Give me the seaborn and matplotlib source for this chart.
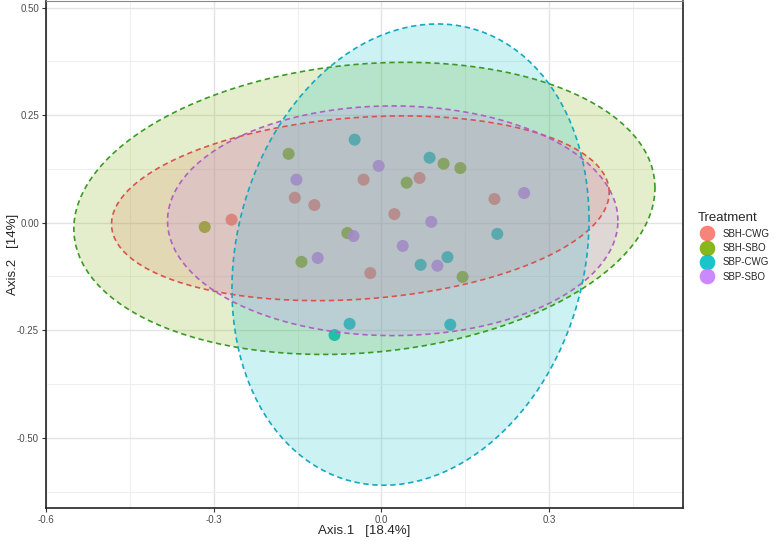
import numpy as np
import pandas as pd
import seaborn as sns
import matplotlib.pyplot as plt

sns.set_theme(style="white")
plt.rcParams['font.family'] = ['Liberation Sans', 'DejaVu Sans']

TREATMENTS = ["SBH-CWG", "SBH-SBO", "SBP-CWG", "SBP-SBO"]
COLORS = ["#F8766D", "#7CAE00", "#00BFC4", "#C77CFF"]
LINE_COLORS = ["#d9534f", "#3a9a25", "#14a9c0", "#b060c4"]

# PCoA scores
sbh_cwg_x = [-0.268, -0.155, -0.120, -0.032, 0.068, 0.023, -0.020, 0.202]
sbh_cwg_y = [0.007, 0.058, 0.041, 0.100, 0.104, 0.020, -0.117, 0.055]
sbh_sbo_x = [-0.166, -0.316, -0.061, -0.143, 0.045, 0.111, 0.141, 0.145]
sbh_sbo_y = [0.160, -0.010, -0.024, -0.091, 0.093, 0.137, 0.127, -0.126]
sbp_cwg_x = [-0.048, 0.086, 0.207, 0.118, 0.070, -0.057, -0.084, 0.123]
sbp_cwg_y = [0.193, 0.151, -0.026, -0.080, -0.098, -0.235, -0.261, -0.237]
sbp_sbo_x = [-0.152, -0.114, -0.050, -0.005, 0.255, 0.089, 0.038, 0.100]
sbp_sbo_y = [0.100, -0.082, -0.031, 0.132, 0.069, 0.002, -0.054, -0.100]

X_TICKS = [-0.6, -0.3, 0.0, 0.3]
Y_TICKS = [0.50, 0.25, 0.00, -0.25, -0.50]


def ellipse_points(xy, level=0.95, segments=121):
	# same as stat_ellipse(type = "norm")
	n = len(xy)
	center = xy.mean(axis=0)
	cov = np.cov(xy, rowvar=False)
	dfd = n - 1
	# F(2, dfd) quantile has a closed form
	fq = dfd / 2 * ((1 - level) ** (-2 / dfd) - 1)
	radius = np.sqrt(2 * fq)
	ang = np.linspace(0, 2 * np.pi, segments)
	circle = np.column_stack([np.cos(ang), np.sin(ang)])
	L = np.linalg.cholesky(cov)
	return center + radius * circle @ L.T


df = pd.DataFrame({
	'x': sbh_cwg_x + sbh_sbo_x + sbp_cwg_x + sbp_sbo_x,
	'y': sbh_cwg_y + sbh_sbo_y + sbp_cwg_y + sbp_sbo_y,
	'Treatment': [t for t in TREATMENTS for _ in range(8)],
})

fig = plt.figure(figsize=(7.77, 5.41), dpi=100)
ax = fig.add_axes([0.059, 0.061, 0.820, 0.937])

ax.set_xticks(X_TICKS)
ax.set_yticks(Y_TICKS)
ax.set_xticks([-0.45, -0.15, 0.15, 0.45], minor=True)
ax.set_yticks([0.375, 0.125, -0.125, -0.375, -0.625], minor=True)
ax.grid(which='major', color='#e4e4e4', linewidth=1.0, zorder=0)
ax.grid(which='minor', color='#efefef', linewidth=0.8, zorder=0)
ax.set_axisbelow(True)

sns.scatterplot(data=df, x='x', y='y', hue='Treatment', hue_order=TREATMENTS,
				palette=COLORS, s=75, edgecolor='none', alpha=0.9, ax=ax, zorder=2)

for t, fc, lc in zip(TREATMENTS, COLORS, LINE_COLORS):
	sub = df[df['Treatment'] == t][['x', 'y']].to_numpy()
	e = ellipse_points(sub)
	ax.fill(e[:, 0], e[:, 1], color=fc, alpha=0.2, linewidth=0, zorder=3)
	ax.plot(e[:, 0], e[:, 1], color=lc, linestyle=(0, (3.2, 2.2)), linewidth=1.2, zorder=4)

ax.set_xlim(-0.6, 0.539)
ax.set_ylim(-0.663, 0.515)
ax.set_xticklabels(['-0.6', '-0.3', '0.0', '0.3'])
ax.set_yticklabels(['0.50', '0.25', '0.00', '-0.25', '-0.50'])
ax.tick_params(axis='both', which='major', labelsize=7, labelcolor='#4d4d4d',
			   length=3, width=0.8, color='#333333', bottom=True, left=True, pad=2)
ax.tick_params(which='minor', length=0)
for sp in ax.spines.values():
	sp.set_color('#222222')
	sp.set_linewidth(1.2)
ax.spines['top'].set_color('#888888')
ax.spines['top'].set_linewidth(0.8)

ax.set_xlabel('Axis.1   [18.4%]', fontsize=9.5)
ax.set_ylabel('Axis.2   [14%]', fontsize=9.5)
ax.xaxis.set_label_coords(0.5, -0.034)
ax.yaxis.set_label_coords(-0.042, 0.5)

sns.move_legend(ax, 'center left', bbox_to_anchor=(1.009, 0.515), frameon=False,
				title='Treatment', fontsize=7, title_fontsize=9.5,
				handletextpad=0.6, labelspacing=0.45, markerscale=1.3)
leg = ax.get_legend()
leg._legend_box.align = 'left'

fig.savefig('out.png', dpi=100, facecolor='white')
